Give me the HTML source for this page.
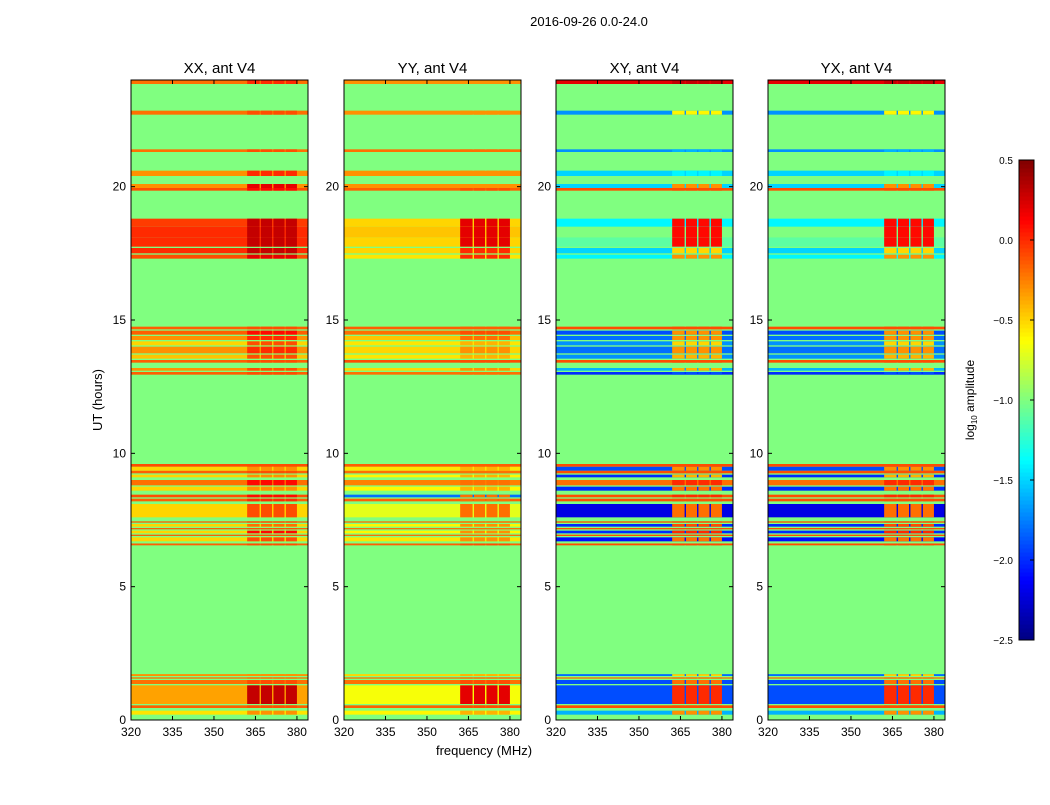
<!DOCTYPE html>
<html><head><meta charset="utf-8"><style>
body{margin:0;background:#fff;font-family:"Liberation Sans",sans-serif}
svg text{font-family:"Liberation Sans",sans-serif}
</style></head><body>
<svg id="fig" width="1050" height="800" xmlns="http://www.w3.org/2000/svg">
<text x="589" y="26" font-size="13" text-anchor="middle">2016-09-26 0.0-24.0</text>
<text x="102" y="400" font-size="13" text-anchor="middle" transform="rotate(-90 102 400)">UT (hours)</text>
<text x="484" y="755" font-size="13" text-anchor="middle">frequency (MHz)</text>
<g id="panels"></g>
<g id="cbar"></g>
</svg>
<script>
const panelNames=["XX, ant V4","YY, ant V4","XY, ant V4","YX, ant V4"];
const panelX=[131,344,556,768];
const bandStart=[0.2,0.45,0.6,1.35,1.55,1.65,6.55,6.7,6.9,7.0,7.15,7.25,7.4,7.6,8.2,8.35,8.6,8.8,9.1,9.25,9.35,9.5,12.95,13.1,13.4,13.55,13.75,14.05,14.25,14.45,14.65,17.3,17.5,17.75,18.1,18.5,19.85,19.95,20.4,21.3,22.7,23.85];
const bandEnd=[0.35,0.55,1.3,1.5,1.6,1.72,6.62,6.85,6.95,7.1,7.2,7.35,7.45,8.1,8.3,8.45,8.75,9.0,9.2,9.35,9.5,9.6,13.05,13.2,13.5,13.7,14.0,14.2,14.4,14.6,14.75,17.45,17.7,18.1,18.5,18.8,19.95,20.1,20.6,21.4,22.85,24.0];
const xxLeft=[-0.55,-0.15,-0.35,-0.2,-0.2,-0.3,-0.15,-0.5,-0.15,-0.5,-0.15,-0.5,-0.15,-0.5,-0.15,-0.1,-0.5,-0.2,-0.5,-0.15,-0.5,-0.1,-0.15,-0.3,-0.15,-0.45,-0.3,-0.5,-0.3,-0.15,-0.15,-0.1,0.0,0.0,0.0,-0.05,-0.1,-0.3,-0.3,-0.2,-0.2,-0.2];
const xxRight=[-0.3,-0.1,0.3,-0.1,-0.2,-0.3,-0.1,-0.1,-0.1,0.1,-0.1,-0.2,-0.1,-0.1,0.0,0.1,-0.3,0.1,-0.3,-0.1,-0.3,-0.1,-0.1,-0.1,-0.1,-0.1,0.0,-0.1,0.0,0.1,-0.1,0.2,0.3,0.3,0.3,0.3,0.1,0.2,0.0,-0.1,-0.1,0.0];
const yyLeft=[-0.6,-0.15,-0.65,-0.2,-0.2,-0.5,-0.15,-0.55,-0.2,-0.6,-0.2,-0.6,-0.2,-0.7,-0.15,-1.8,-0.6,-0.25,-0.6,-0.2,-0.55,-0.15,-0.2,-0.5,-0.1,-0.55,-0.5,-0.55,-0.45,-0.2,-0.15,-0.55,-0.5,-0.5,-0.45,-0.5,-0.15,-0.3,-0.3,-0.2,-0.3,-0.3];
const yyRight=[-0.4,-0.1,0.2,-0.1,-0.2,-0.4,-0.1,-0.3,-0.2,-0.3,-0.2,-0.3,-0.2,-0.2,-0.2,-0.2,-0.4,-0.2,-0.4,-0.2,-0.4,-0.15,-0.2,-0.3,-0.1,-0.4,-0.3,-0.4,-0.2,-0.1,-0.15,0.0,0.0,0.2,0.2,0.2,-0.1,-0.3,-0.3,-0.2,-0.3,-0.3];
const xyLeft=[-1.6,-0.1,-1.9,-1.9,-0.2,-1.8,-0.1,-2.1,-0.1,-2.0,-0.1,-2.0,-0.1,-2.2,-0.1,-0.1,-2.0,-0.2,-2.0,-0.1,-1.9,-0.1,-2.0,-1.6,-0.1,-1.7,-1.8,-1.7,-1.8,-1.9,-0.1,-1.4,-1.5,-1.1,-1.0,-1.4,-0.1,-1.5,-1.5,-1.7,-1.7,0.2];
const xyRight=[-0.3,-0.1,0.0,-0.2,-0.2,-0.5,-0.1,-0.2,-0.1,0.0,-0.1,-0.1,-0.1,-0.2,-0.1,0.0,-0.2,0.0,-0.4,-0.1,-0.3,-0.1,-1.9,-0.4,-0.1,-0.4,-0.3,-0.5,-0.3,-0.3,-0.1,-0.3,-0.5,0.1,0.1,0.1,-0.1,-0.3,-1.4,-1.6,-0.6,0.3];
const leftVals=[xxLeft,yyLeft,xyLeft,xyLeft];
const rightVals=[xxRight,yyRight,xyRight,xyRight];
const xTicks=[320,335,350,365,380];
const yTicks=[0,5,10,15,20];
const cbTicks=[0.5,0.0,-0.5,-1.0,-1.5,-2.0,-2.5];
const rightBlocks=[[362,366.5],[367,371],[371.5,375.5],[376,380]];
const vmin=-2.5,vmax=0.5,bg=-1.0;
const fMin=320,fMax=384,tMin=0,tMax=24,pw=177,pTop=80,pBot=720;
const NS="http://www.w3.org/2000/svg";
function jet(v){let t=(v-vmin)/(vmax-vmin);t=Math.max(0,Math.min(1,t));
 const c=x=>Math.round(255*Math.max(0,Math.min(1,x)));
 return `rgb(${c(1.5-Math.abs(4*t-3))},${c(1.5-Math.abs(4*t-2))},${c(1.5-Math.abs(4*t-1))})`;}
function el(tag,attrs,parent){const e=document.createElementNS(NS,tag);for(const k in attrs)e.setAttribute(k,attrs[k]);parent.appendChild(e);return e;}
const yS=t=>pBot-(t-tMin)/(tMax-tMin)*(pBot-pTop);
const panels=document.getElementById('panels');
panelNames.forEach((name,p)=>{
 const x0=panelX[p];const xS=f=>x0+(f-fMin)/(fMax-fMin)*pw;
 const g=el('g',{},panels);
 
 
 const bgR=el('rect',{x:x0,y:pTop,width:pw,height:pBot-pTop,fill:jet(bg)},g);
 
 
 for(let i=0;i<bandStart.length;i++){
  const y1=yS(bandEnd[i]),h=yS(bandStart[i])-y1;
  const L=leftVals[p][i],R=rightVals[p][i];
  const r=el('rect',{x:x0,y:y1,width:pw,height:h,fill:jet(L)},g);
  
  
  rightBlocks.forEach(b=>{
   const c=el('rect',{x:xS(b[0]),y:y1,width:xS(b[1])-xS(b[0]),height:h,fill:jet(R)},g);
   
   
  });
 }
 const fr=el('rect',{x:x0,y:pTop,width:pw,height:pBot-pTop,fill:'none',stroke:'#000','stroke-width':1},g);
 
 
 const tt=el('text',{x:x0+pw/2,y:73,'font-size':15,'text-anchor':'middle'},g);tt.textContent=name;
 
 
 xTicks.forEach(v=>{const x=xS(v);
  el('line',{x1:x,x2:x,y1:pBot,y2:pBot-4,stroke:'#000'},g);
  el('line',{x1:x,x2:x,y1:pTop,y2:pTop+4,stroke:'#000'},g);
  const t=el('text',{x:x,y:pBot+16,'font-size':12,'text-anchor':'middle'},g);t.textContent=v;
  
  });
 yTicks.forEach(v=>{const y=yS(v);
  el('line',{x1:x0,x2:x0+4,y1:y,y2:y,stroke:'#000'},g);
  el('line',{x1:x0+pw,x2:x0+pw-4,y1:y,y2:y,stroke:'#000'},g);
  const t=el('text',{x:x0-5,y:y+4,'font-size':12,'text-anchor':'end'},g);t.textContent=v;
  
  });
});
// colorbar
const cb=document.getElementById('cbar');
const cx=1019,cw=15,cT=160,cB=640;
const cyS=v=>cB-(v-vmin)/(vmax-vmin)*(cB-cT);
for(let i=0;i<120;i++){const v0=vmin+i*(vmax-vmin)/120,v1=vmin+(i+1)*(vmax-vmin)/120;
 const r=el('rect',{x:cx,y:cyS(v1),width:cw,height:cyS(v0)-cyS(v1)+0.5,fill:jet((v0+v1)/2)},cb);
 
 }
el('rect',{x:cx,y:cT,width:cw,height:cB-cT,fill:'none',stroke:'#000'},cb);
cbTicks.forEach(v=>{const y=cyS(v);
 el('line',{x1:cx+cw-4,x2:cx+cw,y1:y,y2:y,stroke:'#000'},cb);
 const t=el('text',{x:1013,y:y+4,'font-size':10,'text-anchor':'end'},cb);t.textContent=v.toFixed(1).replace('-','\u2212');
 
 });
const lab=el('text',{x:974,y:400,'font-size':12,'text-anchor':'middle',transform:'rotate(-90 974 400)'},cb);
lab.innerHTML='log<tspan font-size="8" dy="3">10</tspan><tspan dy="-3"> amplitude</tspan>';


</script>
</body></html>
